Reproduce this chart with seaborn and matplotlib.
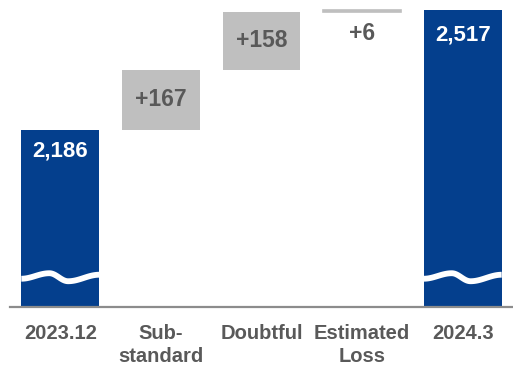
import matplotlib
matplotlib.use("Agg")
import matplotlib.pyplot as plt
import seaborn as sns
import numpy as np
import pandas as pd

# data
categories = ["2023.12", "Sub-\nstandard", "Doubtful", "Estimated\nLoss", "2024.3"]
start_total = 2186
changes = [167, 158, 6]
end_total = 2517

# colours
blue = "#043F8D"
grey_bar = "#BFBFBF"
grey_text = "#595959"

# floating bar tops / bottoms
bottoms = [0]
tops = [start_total]
running = start_total
for c in changes:
    bottoms.append(running)
    running += c
    tops.append(running)
bottoms.append(0)
tops.append(end_total)

df = pd.DataFrame({"cat": categories, "top": tops, "bottom": bottoms})
colors = [blue, grey_bar, grey_bar, grey_bar, blue]

sns.set_theme(style="white")
plt.rcParams["font.family"] = ["Liberation Sans", "DejaVu Sans"]

fig = plt.figure(figsize=(5.13, 3.68), dpi=100)
ax = fig.add_axes([10 / 513, 61 / 368, 503 / 513, 307 / 368])

sns.barplot(data=df, x="cat", y="top", hue="cat", palette=colors,
            legend=False, width=0.775, saturation=1, linewidth=0, ax=ax)

# turn the change bars into floating bars
for patch, b, t in zip(ax.patches, bottoms, tops):
    if b > 0:
        patch.set_y(b)
        patch.set_height(t - b)
        if t - b < 20:
            # tiny step: give it a visible thickness
            patch.set_edgecolor(grey_bar)
            patch.set_linewidth(1.2)

ax.set_ylim(1698, 2545)
ax.set_xlim(-0.5, 4.5)

# value labels
labels = [f"{start_total:,}"] + [f"+{c}" for c in changes] + [f"{end_total:,}"]
for i, (patch, lab) in enumerate(zip(ax.patches, labels)):
    xc = patch.get_x() + patch.get_width() / 2
    if i in (0, 4):
        ax.annotate(lab, (xc, tops[i]), xytext=(0, -21 if i == 0 else -25),
                    textcoords="offset pixels", ha="center", va="center",
                    color="white", fontsize=16, fontweight="bold")
    elif changes[i - 1] < 20:
        ax.annotate(lab, (xc, tops[i]), xytext=(0, -23),
                    textcoords="offset pixels", ha="center", va="center",
                    color=grey_text, fontsize=16.5, fontweight="bold")
    else:
        ax.text(xc, (bottoms[i] + tops[i]) / 2, lab, ha="center", va="center",
                color=grey_text, fontsize=16.5, fontweight="bold")

# axis break waves on the total bars (pixel offsets along the bar width)
break_level = 1776
key_t = [0.0, 0.36, 0.6, 1.0]
key_dy = [0.0, -5.5, 2.5, -4.0]
t = np.linspace(0, 1, 80)
dy = np.zeros_like(t)
for k in range(len(key_t) - 1):
    m = (t >= key_t[k]) & (t <= key_t[k + 1])
    s = (t[m] - key_t[k]) / (key_t[k + 1] - key_t[k])
    w = (1 - np.cos(np.pi * s)) / 2
    dy[m] = key_dy[k] + (key_dy[k + 1] - key_dy[k]) * w
for i in (0, 4):
    p = ax.patches[i]
    xs = p.get_x() + t * p.get_width()
    ys = break_level - dy / 0.3625
    ax.plot(xs, ys, color="white", lw=4.2, solid_capstyle="butt")

ax.set_xlabel("")
ax.set_ylabel("")
ax.set_yticks([])
for s in ["top", "right", "left"]:
    ax.spines[s].set_visible(False)
ax.spines["bottom"].set_color("#8C8C8C")
ax.spines["bottom"].set_linewidth(1.6)
ax.tick_params(axis="x", length=0, pad=12)
for lbl in ax.get_xticklabels():
    lbl.set_fontsize(14.5)
    lbl.set_fontweight("bold")
    lbl.set_color(grey_text)
    lbl.set_linespacing(1.3)

fig.savefig("out.png", dpi=100)
